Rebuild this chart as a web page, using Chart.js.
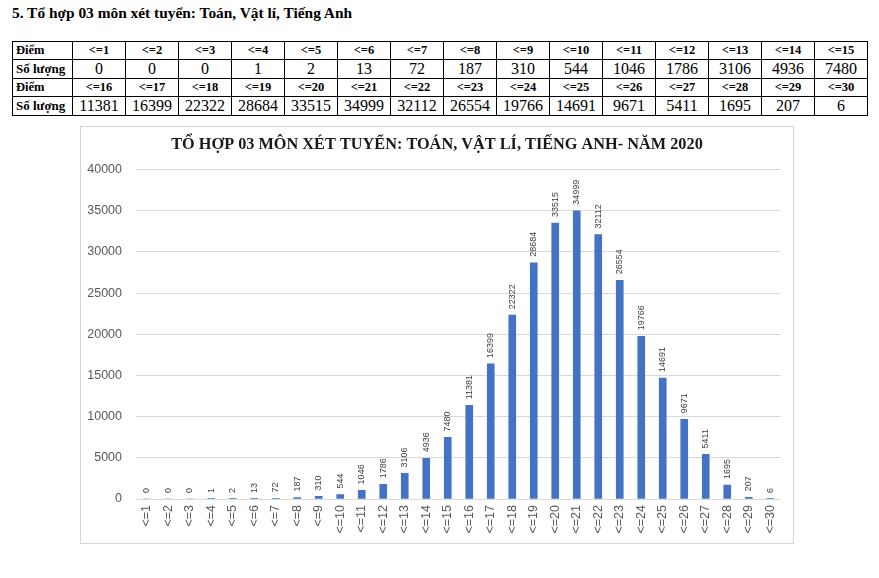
<!DOCTYPE html>
<html>
<head>
<meta charset="utf-8">
<script src="https://cdn.jsdelivr.net/npm/chart.js@4"></script>
<style>
  html, body { margin: 0; padding: 0; background: #fff; width: 879px; height: 578px; overflow: hidden; }
  #heading { position: absolute; left: 12px; top: 4px; font-family: "Liberation Serif", "Times New Roman", serif; font-weight: bold; font-size: 15.4px; color: #000; white-space: nowrap; }
  #tbl { position: absolute; left: 12px; top: 41px; border-collapse: collapse; font-family: "Liberation Serif", "Times New Roman", serif; table-layout: fixed; }
  #tbl td { border: 1px solid #000; text-align: center; padding: 0; white-space: nowrap; overflow: hidden; }
  #tbl td.first { text-align: left; padding-left: 3px; font-weight: bold; font-size: 13px; }
  #tbl tr.h td { font-weight: bold; font-size: 12.5px; height: 17px; }
  #tbl tr.v td { font-size: 16px; height: 18px; }
  #tbl tr.v td.first { font-size: 13px; }
  #box { position: absolute; left: 80px; top: 126px; width: 714px; height: 418px; border: 1px solid #d4d4d4; box-sizing: border-box; background: #fff; }
  #c { position: absolute; left: 0; top: 0; }
</style>
</head>
<body>
<div id="heading">5. Tổ hợp 03 môn xét tuyển: Toán, Vật lí, Tiếng Anh</div>
<table id="tbl"></table>
<div id="box"><canvas id="c" width="712" height="416"></canvas></div>
<script>
const categories = ["<=1","<=2","<=3","<=4","<=5","<=6","<=7","<=8","<=9","<=10","<=11","<=12","<=13","<=14","<=15","<=16","<=17","<=18","<=19","<=20","<=21","<=22","<=23","<=24","<=25","<=26","<=27","<=28","<=29","<=30"];
const counts = [0,0,0,1,2,13,72,187,310,544,1046,1786,3106,4936,7480,11381,16399,22322,28684,33515,34999,32112,26554,19766,14691,9671,5411,1695,207,6];
const yTicks = [0,5000,10000,15000,20000,25000,30000,35000,40000];
const rowHeaderScore = "Điểm";
const rowHeaderCount = "Số lượng";
const chartTitle = "TỔ HỢP 03 MÔN XÉT TUYỂN: TOÁN, VẬT LÍ, TIẾNG ANH- NĂM 2020";

// Build the table
(function () {
  const tbl = document.getElementById('tbl');
  const cg = document.createElement('colgroup');
  const c0 = document.createElement('col'); c0.style.width = '60px'; cg.appendChild(c0);
  for (let i = 0; i < 15; i++) { const c = document.createElement('col'); c.style.width = '53px'; cg.appendChild(c); }
  tbl.appendChild(cg);
  for (let half = 0; half < 2; half++) {
    const trH = document.createElement('tr'); trH.className = 'h';
    const trV = document.createElement('tr'); trV.className = 'v';
    let td = document.createElement('td'); td.className = 'first'; td.textContent = rowHeaderScore; trH.appendChild(td);
    td = document.createElement('td'); td.className = 'first'; td.textContent = rowHeaderCount; trV.appendChild(td);
    for (let i = half * 15; i < half * 15 + 15; i++) {
      let a = document.createElement('td'); a.textContent = categories[i]; trH.appendChild(a);
      let b = document.createElement('td'); b.textContent = String(counts[i]); trV.appendChild(b);
    }
    tbl.appendChild(trH); tbl.appendChild(trV);
  }
})();

const barLabels = {
  id: 'barLabels',
  afterDatasetsDraw(chart) {
    const ctx = chart.ctx;
    const meta = chart.getDatasetMeta(0);
    ctx.save();
    ctx.font = '9px "Liberation Sans", Arial, sans-serif';
    ctx.fillStyle = '#404040';
    ctx.textAlign = 'left';
    ctx.textBaseline = 'middle';
    meta.data.forEach((bar, i) => {
      const v = chart.data.datasets[0].data[i];
      ctx.save();
      ctx.translate(bar.x, bar.y - 6);
      ctx.rotate(-Math.PI / 2);
      ctx.fillText(String(v), 0, 0);
      ctx.restore();
    });
    ctx.restore();
  }
};

new Chart(document.getElementById('c'), {
  type: 'bar',
  data: {
    labels: categories,
    datasets: [{ data: counts, backgroundColor: '#4472C4', borderWidth: 0, barThickness: 7 }]
  },
  options: {
    responsive: false,
    devicePixelRatio: 1,
    animation: false,
    layout: { padding: 0 },
    plugins: {
      legend: { display: false },
      tooltip: { enabled: false },
      title: {
        display: true,
        text: chartTitle,
        color: '#1a1a1a',
        font: { family: '"Liberation Serif", "Times New Roman", serif', size: 16.3, weight: 'bold' },
        padding: { top: 8, bottom: 15 }
      }
    },
    scales: {
      x: {
        grid: { display: false, drawTicks: false },
        border: { display: false },
        ticks: {
          color: '#595959',
          font: { family: '"Liberation Sans", Arial, sans-serif', size: 12.5 },
          minRotation: 90, maxRotation: 90, padding: 6, autoSkip: false
        },
        afterFit(s) { s.height = 44; }
      },
      y: {
        min: 0, max: 40000,
        afterBuildTicks(s) { s.ticks = yTicks.map(v => ({ value: v })); },
        grid: { color: '#d9d9d9', drawTicks: false, lineWidth: 1 },
        border: { display: false },
        ticks: {
          color: '#595959',
          font: { family: '"Liberation Sans", Arial, sans-serif', size: 12.5 },
          padding: 14,
          callback: (v) => String(v)
        },
        afterFit(s) { s.width = 55; }
      },
      yRight: {
        position: 'right',
        min: 0, max: 40000,
        grid: { display: false, drawTicks: false },
        border: { display: false },
        ticks: { display: false },
        afterFit(s) { s.width = 12; }
      }
    }
  },
  plugins: [barLabels]
});
</script>
</body>
</html>
